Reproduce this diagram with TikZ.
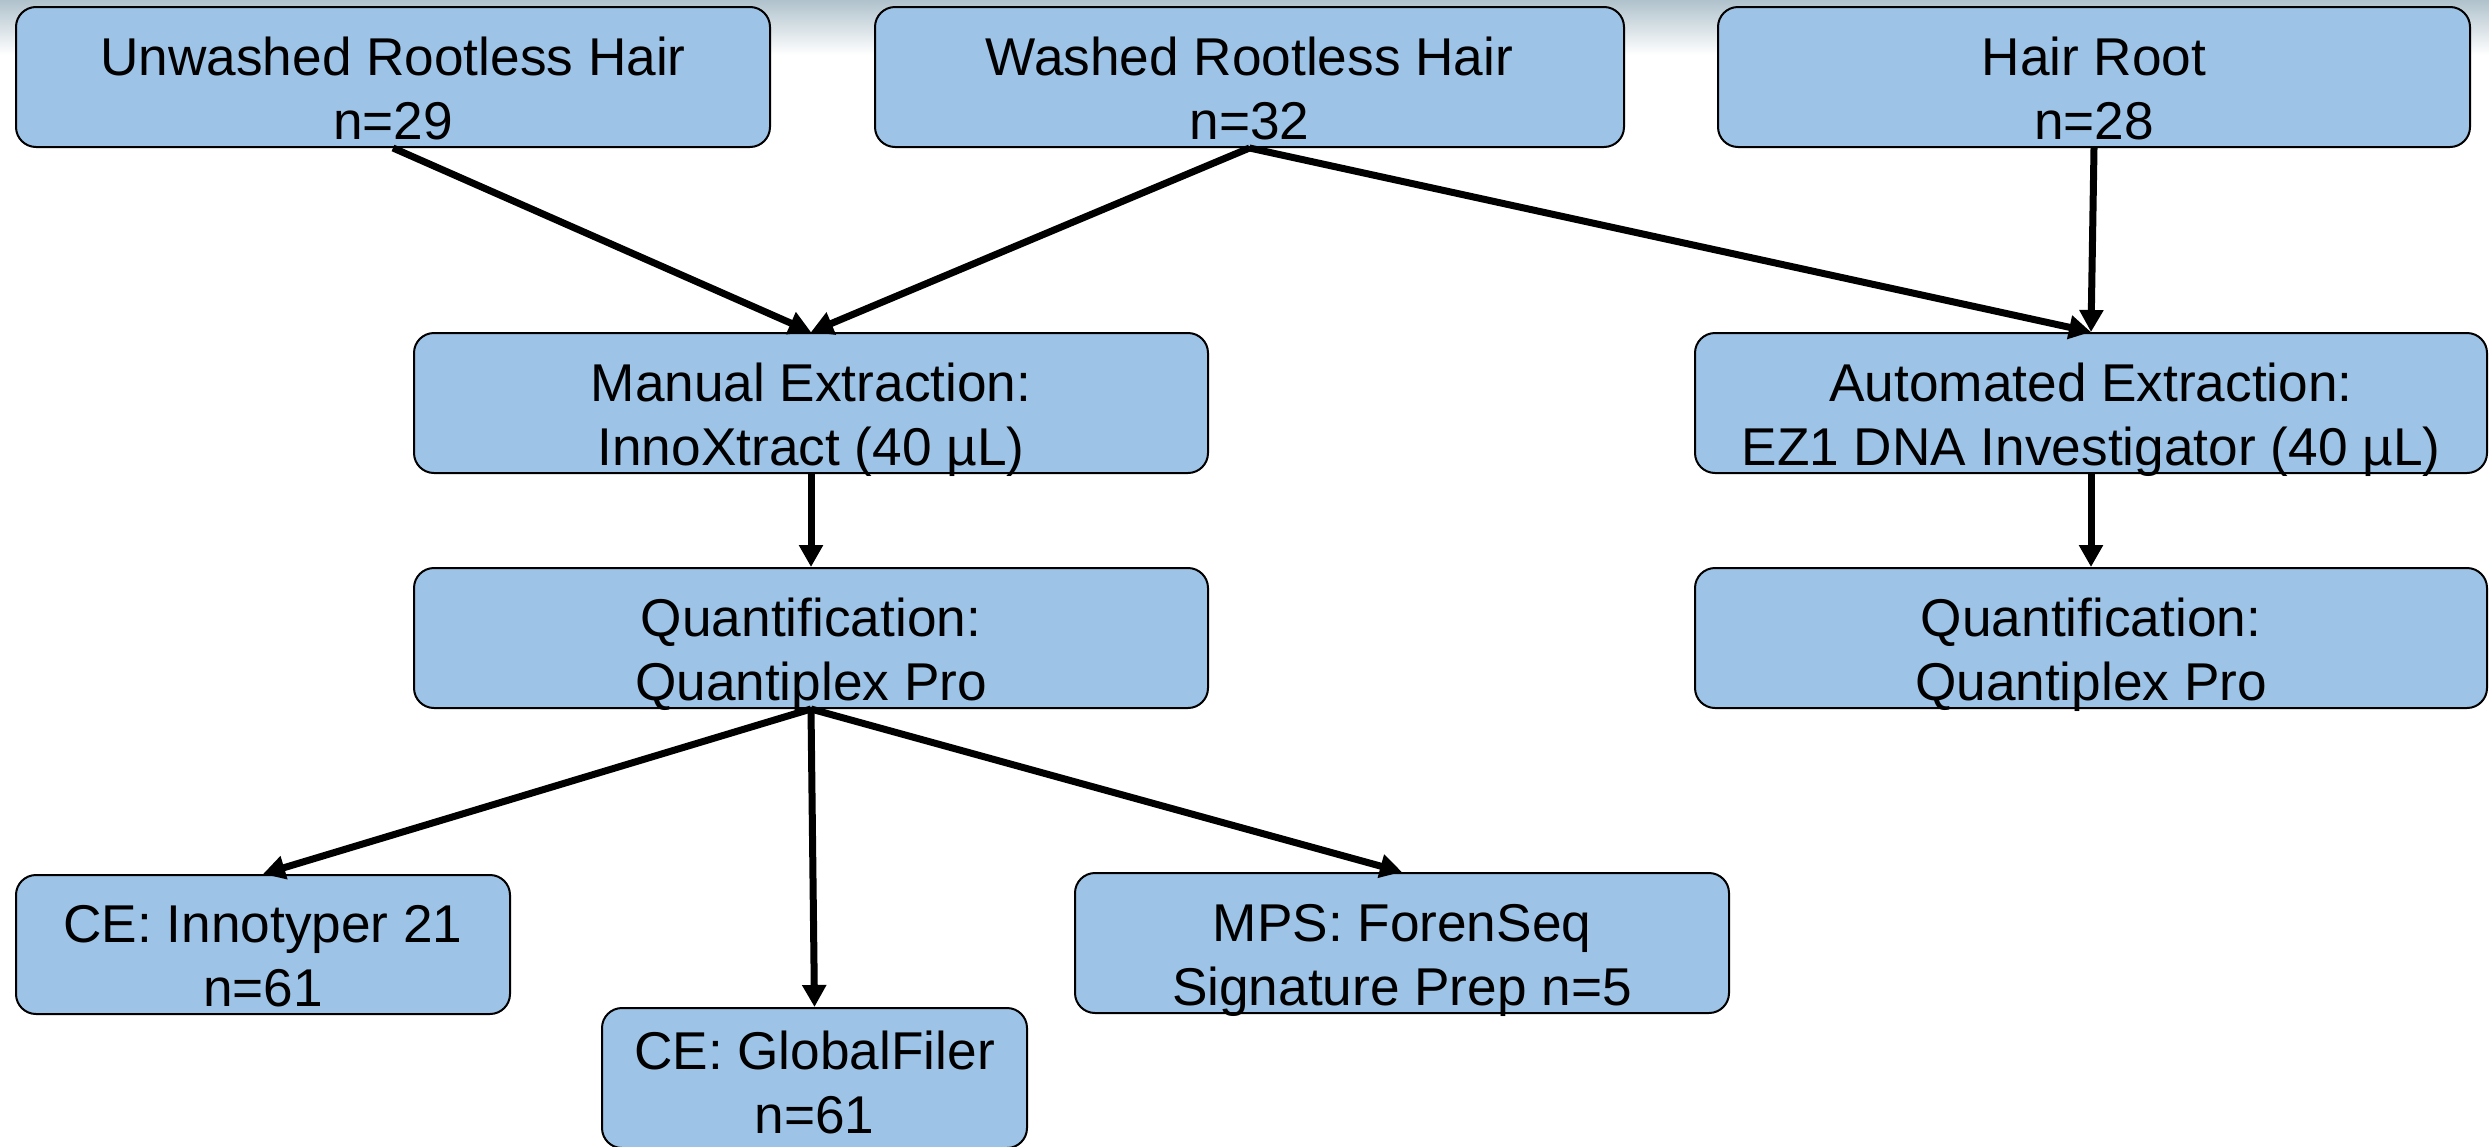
\documentclass[tikz,border=0pt]{standalone}
\usepackage{fontspec}
\setmainfont{Liberation Sans}
\usetikzlibrary{arrows.meta}
\definecolor{boxfill}{RGB}{157,195,230}
\definecolor{bgtop}{RGB}{176,194,204}
\begin{document}
\begin{tikzpicture}[x=0.5pt,y=-0.5pt,
  box/.style={draw=black, line width=1pt, fill=boxfill, rounded corners=10pt, inner sep=0pt, minimum height=70pt},
  lbl/.style={align=center, inner sep=0pt, yshift=-8.5pt, font=\fontsize{26.6}{32}\selectfont,
    execute at begin node=\vphantom{(}, execute at end node=\vphantom{(}},
  lblnd/.style={align=center, inner sep=0pt, yshift=-5pt, font=\fontsize{26.6}{32}\selectfont,
    execute at begin node=\vphantom{(}},
  arr/.style={-{Triangle[length=11pt,width=11.5pt]}, line width=3.5pt}]
\useasboundingbox (0,0) rectangle (2489,1146);
\fill[white] (0,0) rectangle (2489,1146);
\shade[top color=bgtop, bottom color=white] (0,0) rectangle (2489,55);
% boxes
\node[box, minimum width=377pt] (u) at (393,77) {};
\node[lbl] (ut) at (u.center) {Unwashed Rootless Hair\\n=29};
\node[box, minimum width=374.5pt] (w) at (1249.5,77) {};
\node[lbl] (wt) at (w.center) {Washed Rootless Hair\\n=32};
\node[box, minimum width=376pt] (h) at (2094,77) {};
\node[lbl] (ht) at (h.center) {Hair Root\\n=28};
\node[box, minimum width=397pt] (m) at (811,403) {};
\node[lbl] (mt) at (m.center) {Manual Extraction:\\InnoXtract (40 µL)};
\node[box, minimum width=396pt] (a) at (2091,403) {};
\node[lbl] (at) at (a.center) {Automated Extraction:\\EZ1 DNA Investigator (40 µL)};
\node[box, minimum width=397pt] (q) at (811,638) {};
\node[lbl] (qt) at (q.center) {Quantification:\\Quantiplex Pro};
\node[box, minimum width=396pt] (r) at (2091,638) {};
\node[lbl] (rt) at (r.center) {Quantification:\\Quantiplex Pro};
\node[box, minimum width=247pt, minimum height=69.5pt] (i) at (263,944.5) {};
\node[lbl] (it) at (i.center) {CE: Innotyper 21\\n=61};
\node[box, minimum width=212.5pt] (g) at (814.5,1078) {};
\node[lblnd] (gt) at (g.center) {CE: GlobalFiler\\n=61};
\node[box, minimum width=327pt] (p) at (1402,943) {};
\node[lbl] (pt) at (p.center) {MPS: ForenSeq\\Signature Prep n=5};
% arrows
\draw[arr] (u.south) -- (m.north);
\draw[arr] (w.south) -- (m.north);
\draw[arr] (w.south) -- (a.north);
\draw[arr] (h.south) -- (a.north);
\draw[arr] (m.south) -- (q.north);
\draw[arr] (a.south) -- (r.north);
\draw[arr] (q.south) -- (i.north);
\draw[arr] (q.south) -- (g.north);
\draw[arr] (q.south) -- (p.north);
\end{tikzpicture}
\end{document}
